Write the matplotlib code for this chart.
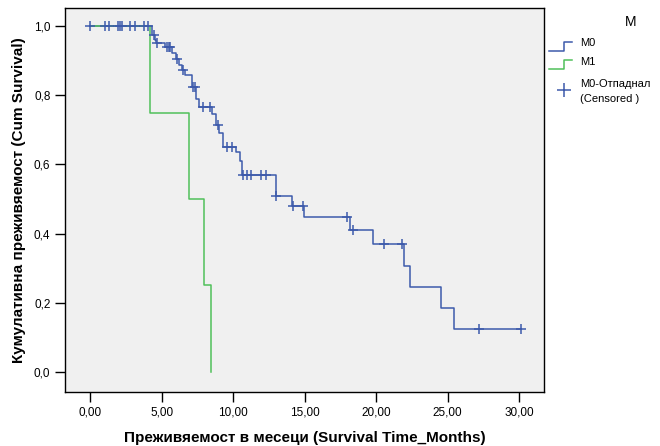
import numpy as np
import matplotlib.pyplot as plt
from matplotlib.ticker import FuncFormatter

plt.rcParams['font.family'] = ['Liberation Sans', 'DejaVu Sans']

# M0 group: event times and survival after each step
m0_times = [4.31, 4.55, 4.62, 5.25, 5.75, 6.0, 6.2, 6.45, 6.65, 7.15, 7.42, 7.65,
            8.55, 8.8, 9.05, 9.3, 10.2, 10.45, 10.65, 12.98, 14.15, 14.97,
            18.2, 19.8, 21.95, 22.4, 24.55, 25.43]
m0_surv = [0.975, 0.96, 0.952, 0.94, 0.921, 0.906, 0.887, 0.873, 0.858, 0.825, 0.79, 0.767,
           0.747, 0.714, 0.69, 0.651, 0.635, 0.61, 0.568, 0.51, 0.481, 0.447,
           0.41, 0.369, 0.307, 0.247, 0.186, 0.125]
m0_end = 30.1
m0_censor = [0, 1.05, 1.35, 1.98, 2.1, 2.22, 2.8, 3.15, 3.78, 4.08, 4.5, 4.66,
             5.35, 5.5, 5.6, 6.1, 6.5, 7.2, 7.35, 7.9, 8.4, 8.97, 9.6, 9.9,
             10.7, 10.96, 11.24, 11.96, 12.3, 13.0, 14.2, 14.9, 17.95, 18.35,
             20.55, 21.8, 27.2, 30.1]

# M1 group
m1_times = [4.2, 6.9, 8.0, 8.45]
m1_surv = [0.75, 0.5, 0.25, 0.0]
m1_end = 8.45

x_ticks = [0, 5, 10, 15, 20, 25, 30]
y_ticks = [0.0, 0.2, 0.4, 0.6, 0.8, 1.0]

blue = '#3d5aab'
green = '#50c05a'


def km_path(times, surv, end):
    t = np.concatenate([[0.0], times, [end]])
    s = np.concatenate([[1.0], surv, [surv[-1]]])
    return t, s


fig = plt.figure(figsize=(6.6, 4.46), dpi=100)
ax = fig.add_axes([0.0985, 0.121, 0.726, 0.861])
ax.set_facecolor('#f0f0f0')

t0, s0 = km_path(m0_times, m0_surv, m0_end)
t1, s1 = km_path(m1_times, m1_surv, m1_end)
ax.step(t0, s0, where='post', color=blue, lw=1.1)
ax.step(t1, s1, where='post', color=green, lw=1.1)

# survival at censor times
idx = np.searchsorted(m0_times, m0_censor, side='right')
cs = np.concatenate([[1.0], m0_surv])[idx]
ax.plot(m0_censor, cs, '+', color=blue, ms=6.5, mew=1.1)

ax.set_xlim(-1.75, 31.75)
ax.set_ylim(-0.058, 1.052)
ax.set_xticks(x_ticks)
ax.set_yticks(y_ticks)
ax.xaxis.set_major_formatter(FuncFormatter(lambda v, p: f"{v:.2f}".replace('.', ',')))
ax.yaxis.set_major_formatter(FuncFormatter(lambda v, p: f"{v:.1f}".replace('.', ',')))
ax.tick_params(direction='out', length=7, width=1, labelsize=8.5, color='black')
for sp in ax.spines.values():
    sp.set_linewidth(1)

ax.set_xlabel('Преживяемост в месеци (Survival Time_Months)', fontsize=11,
              fontweight='bold', labelpad=9)
ax.set_ylabel('Кумулативна преживяемост (Cum Survival)', fontsize=11,
              fontweight='bold', labelpad=6)

# legend drawn by hand to get the step icons
lg = fig.add_axes([0.824, 0.6, 0.176, 0.4])
lg.set_xlim(0, 116)
lg.set_ylim(178, 0)
lg.axis('off')
lg.text(87, 22, 'M', fontsize=10, ha='center', va='center')
lg.plot([5, 20, 20, 28], [51, 51, 42, 42], color=blue, lw=1.1)
lg.text(36, 43, 'M0', fontsize=8, va='center')
lg.plot([5, 20, 20, 28], [69, 69, 60, 60], color=green, lw=1.1)
lg.text(36, 62, 'M1', fontsize=8, va='center')
lg.plot([20], [90], '+', color=blue, ms=10, mew=1.1)
lg.text(36, 84, 'M0-Отпаднал', fontsize=8, va='center')
lg.text(36, 99, '(Censored )', fontsize=8, va='center')

fig.savefig('out.png', dpi=100)
